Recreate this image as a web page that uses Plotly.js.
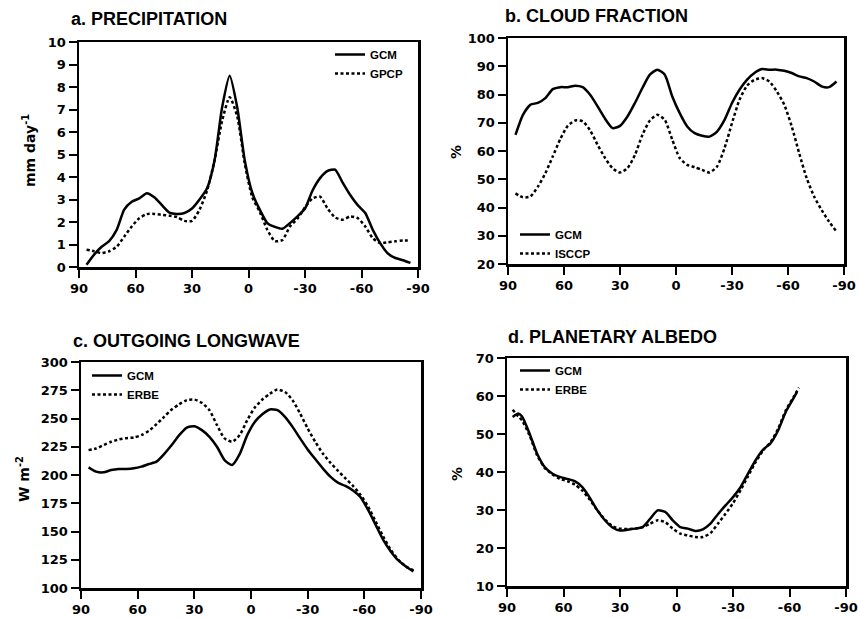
<!DOCTYPE html>
<html>
<head>
<meta charset="utf-8">
<script src="https://cdn.plot.ly/plotly-3.0.1.min.js"></script>
<style>html,body{margin:0;padding:0;background:#fff;}#chart{width:858px;height:618px;}</style>
</head>
<body>
<div id="chart"></div>
<script>
// ---------- DATA ----------
const lat = [86, 82, 78, 74, 70, 66, 62, 58, 54, 50, 46, 42, 38, 34, 30, 26, 22, 18, 14, 10, 6, 2,
             -2, -6, -10, -14, -18, -22, -26, -30, -34, -38, -42, -46, -50, -54, -58, -62, -66, -70, -74, -78, -82, -86];

// a. Precipitation (mm/day)
const precipGCM = [0.1, 0.55, 0.9, 1.15, 1.65, 2.55, 2.9, 3.05, 3.28, 3.1, 2.75, 2.42, 2.36, 2.4, 2.6, 3.0, 3.5, 4.75, 7.1, 8.5, 7.1, 4.75,
                   3.3, 2.55, 1.95, 1.78, 1.7, 1.95, 2.25, 2.6, 3.4, 3.95, 4.27, 4.33, 3.75, 3.2, 2.75, 2.4, 1.65, 1.05, 0.6, 0.4, 0.3, 0.18];
const precipGPCP = [0.77, 0.7, 0.62, 0.7, 0.9, 1.35, 1.8, 2.17, 2.35, 2.36, 2.32, 2.28, 2.22, 2.05, 2.05, 2.55, 3.4, 4.75, 6.5, 7.55, 6.7, 4.6,
                    3.1, 2.45, 1.65, 1.15, 1.2, 1.8, 2.15, 2.65, 3.05, 3.13, 2.6, 2.2, 2.1, 2.25, 2.17, 1.8, 1.28, 1.06, 1.1, 1.14, 1.18, 1.18];

// b. Cloud fraction (%)
const cloudGCM = [65.7, 72.8, 76.4, 77, 78.7, 81.9, 82.6, 82.6, 83.1, 82.6, 79.9, 75.8, 71.4, 68.1, 68.9, 72.2, 77, 82.3, 87, 88.8, 87, 79.3,
                  73.4, 68.7, 66.3, 65.4, 65.1, 66.9, 71, 77, 81.7, 85.2, 87.6, 89, 88.8, 88.8, 88.4, 87.6, 86.4, 85.8, 84.6, 82.9, 82.6, 84.6];
const cloudISCCP = [45, 43.6, 43.9, 47.4, 52.1, 58.1, 64.2, 68.9, 70.8, 70.5, 67.3, 62.2, 57.5, 53.9, 52.4, 53.9, 58.6, 65.7, 70.8, 72.8, 71, 64,
                    57.5, 55.1, 54.3, 53.3, 52.4, 54.5, 61, 69.9, 78.1, 83.1, 85.2, 85.8, 84.6, 81.1, 76.4, 68.7, 59.2, 50.4, 43.9, 39.1, 35, 31.5];

// c. Outgoing longwave (W m-2)
const olrGCM = [206.8, 203, 202.4, 204.4, 205.3, 205.3, 205.9, 207.4, 209.7, 211.8, 218.5, 226.5, 235.3, 242, 243.2, 239.7, 233.8, 225, 213.2, 208.8, 218.5, 235.3,
                247, 253.8, 258, 257.4, 251.5, 242.6, 232.4, 222.6, 214.1, 205.9, 198.5, 193.2, 190.3, 186.2, 180.3, 169.1, 155.9, 142.6, 132.4, 124.4, 119.1, 114.7];
const olrERBE = [222, 223.5, 226.5, 229.4, 231.5, 232.6, 233.2, 235.3, 239.1, 245, 251.5, 257.9, 262.6, 266.2, 266.8, 263.8, 257.4, 244.1, 232.4, 229.4, 235.3, 248.5,
                 259.7, 266.8, 272, 275.6, 273.5, 266.2, 254.4, 241.2, 229.4, 219.1, 210.9, 203.8, 197.1, 190.3, 182.4, 172.1, 158.8, 145.6, 133.8, 125, 119.1, 115.6];

// d. Planetary albedo (%)
const latAlbGCM = [87, 84, 82, 78, 74, 70, 66, 62, 58, 54, 50, 46, 42, 38, 34, 30, 26, 22, 18, 14, 10, 6, 2,
                   -2, -6, -10, -14, -18, -22, -26, -30, -34, -38, -42, -46, -50, -54, -58, -62, -64];
const albGCM = [54.5, 55.4, 54.6, 50.1, 44.8, 41.3, 39.6, 38.7, 38.2, 37.6, 36, 33.2, 29.9, 27.3, 25.4, 24.6, 24.8, 25.1, 25.5, 27.7, 29.9, 29.5, 27.3,
                25.5, 25.1, 24.5, 24.9, 26.4, 28.9, 31.2, 33.4, 36, 39.6, 43.1, 45.9, 47.6, 51, 55.8, 59.3, 61.1];
const latAlbERBE = [87, 84, 82, 78, 74, 70, 66, 62, 58, 54, 50, 46, 42, 38, 34, 30, 26, 22, 18, 14, 10, 6, 2,
                    -2, -6, -10, -14, -18, -22, -26, -30, -34, -38, -42, -46, -50, -54, -58, -62, -65];
const albERBE = [56.4, 54.6, 53.6, 49.6, 44.4, 41.1, 39.4, 38.2, 37.6, 36.7, 35.1, 32.7, 29.9, 27.5, 25.7, 25.1, 25, 25.1, 25.5, 26.4, 27.3, 26.8, 25.1,
                 23.8, 23.3, 22.9, 22.9, 23.9, 26.4, 29, 31.8, 35.2, 38.9, 42.6, 45.7, 47.9, 51.4, 56.2, 59.6, 62.2];

const latTicks = [90, 60, 30, 0, -30, -60, -90];
const titles = ["a. PRECIPITATION", "b. CLOUD FRACTION", "c. OUTGOING LONGWAVE", "d. PLANETARY ALBEDO"];
const yTitles = ["mm day<sup>-1</sup>", "%", "W m<sup>-2</sup>", "%"];

// ---------- STYLE ----------
const W = 858, H = 618;
const px = v => v / W;
const py = v => 1 - v / H;
const tickFont = {family: "DejaVu Sans", size: 13, color: "#000", weight: "bold"};
const legFont = {family: "Liberation Sans", size: 11.5, color: "#000", weight: "bold"};
const solid = {color: "#000", width: 2.5, shape: "spline", smoothing: 0.6};
const dotted = {color: "#000", width: 2.5, dash: "3px,2.5px", shape: "spline", smoothing: 0.6};

function tr(x, y, name, line, xa, ya, leg) {
  return {x: x, y: y, name: name, mode: "lines", line: line, xaxis: xa, yaxis: ya, legend: leg, hoverinfo: "skip"};
}

const traces = [
  tr(lat, precipGCM, "GCM", solid, "x", "y", "legend"),
  tr(lat, precipGPCP, "GPCP", dotted, "x", "y", "legend"),
  tr(lat, cloudGCM, "GCM", solid, "x2", "y2", "legend2"),
  tr(lat, cloudISCCP, "ISCCP", dotted, "x2", "y2", "legend2"),
  tr(lat, olrGCM, "GCM", solid, "x3", "y3", "legend3"),
  tr(lat, olrERBE, "ERBE", dotted, "x3", "y3", "legend3"),
  tr(latAlbGCM, albGCM, "GCM", solid, "x4", "y4", "legend4"),
  tr(latAlbERBE, albERBE, "ERBE", dotted, "x4", "y4", "legend4")
];

function xax(dom, anchor) {
  return {domain: dom, anchor: anchor, range: [90, -90], autorange: false, tickmode: "array", tickvals: latTicks,
          ticktext: latTicks.map(String), showline: true, mirror: true, linewidth: 2.5, linecolor: "#000",
          ticks: "outside", ticklen: 8, tickwidth: 2, tickcolor: "#000", showgrid: false, zeroline: false,
          tickfont: tickFont, fixedrange: true};
}
function yax(dom, anchor, r, dt) {
  return {domain: dom, anchor: anchor, range: r, autorange: false, dtick: dt, tick0: r[0],
          showline: true, mirror: true, linewidth: 2.5, linecolor: "#000",
          ticks: "outside", ticklen: 8, tickwidth: 2, tickcolor: "#000", showgrid: false, zeroline: false,
          tickfont: tickFont, fixedrange: true};
}

const dom = {
  a: {x: [px(79), px(418)], y: [py(267), py(42)]},
  b: {x: [px(508), px(844)], y: [py(264), py(38)]},
  c: {x: [px(81), px(421)], y: [py(588), py(362)]},
  d: {x: [px(507), px(846)], y: [py(586), py(358)]}
};

function legendAt(x, y) {
  return {x: px(x), y: py(y), xanchor: "left", yanchor: "top", bgcolor: "rgba(0,0,0,0)", borderwidth: 0,
          font: legFont, tracegroupgap: 0, itemwidth: 30};
}

function titleAnn(text, x, y) {
  return {text: text, x: px(x), y: py(y), xref: "paper", yref: "paper", xanchor: "left", yanchor: "middle",
          showarrow: false, font: {family: "Liberation Sans", size: 18, color: "#000", weight: "bold"}};
}
function yTitleAnn(text, x, y) {
  return {text: text, x: px(x), y: py(y), xref: "paper", yref: "paper", xanchor: "center", yanchor: "middle",
          textangle: -90, showarrow: false, font: {family: "DejaVu Sans", size: 14, color: "#000", weight: "bold"}};
}

const layout = {
  width: W, height: H, margin: {l: 0, r: 0, t: 0, b: 0},
  paper_bgcolor: "#fff", plot_bgcolor: "#fff", showlegend: true,
  xaxis: xax(dom.a.x, "y"), yaxis: yax(dom.a.y, "x", [0, 10], 1),
  xaxis2: xax(dom.b.x, "y2"), yaxis2: yax(dom.b.y, "x2", [20, 100], 10),
  xaxis3: xax(dom.c.x, "y3"), yaxis3: yax(dom.c.y, "x3", [100, 300], 25),
  xaxis4: xax(dom.d.x, "y4"), yaxis4: yax(dom.d.y, "x4", [10, 70], 10),
  legend: legendAt(330, 40),
  legend2: legendAt(515, 220),
  legend3: legendAt(87, 361),
  legend4: legendAt(515, 356),
  annotations: [
    titleAnn(titles[0], 69, 19),
    titleAnn(titles[1], 503, 16),
    titleAnn(titles[2], 71, 341),
    titleAnn(titles[3], 506, 337),
    yTitleAnn(yTitles[0], 29, 151),
    yTitleAnn(yTitles[1], 456, 152),
    yTitleAnn(yTitles[2], 23, 479),
    yTitleAnn(yTitles[3], 457, 474)
  ]
};

Plotly.newPlot("chart", traces, layout, {staticPlot: true, displayModeBar: false});
</script>
</body>
</html>
